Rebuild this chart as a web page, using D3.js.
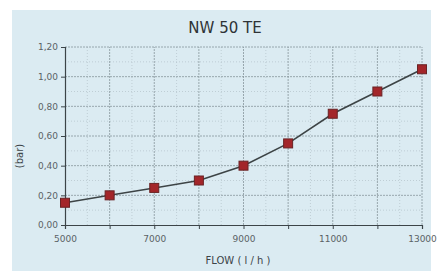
<!DOCTYPE html>
<html>
<head>
<meta charset="utf-8">
<script src="https://cdn.jsdelivr.net/npm/d3@7"></script>
<style>
  body { margin: 0; background: #fff; }
  svg { display: block; }
</style>
</head>
<body>
<div id="chart"></div>
<script>
// values
var flows = [5000, 6000, 7000, 8000, 9000, 10000, 11000, 12000, 13000];
var pressures = [0.15, 0.20, 0.25, 0.30, 0.40, 0.55, 0.75, 0.90, 1.05];
var xTickLabels = [5000, 7000, 9000, 11000, 13000];
var yTickLabels = [0, 0.2, 0.4, 0.6, 0.8, 1.0, 1.2];

var W = 437, H = 271;
var margins = {left: 65, top: 47, right: 15, bottom: 46};

var svg = d3.select("#chart").append("svg:svg")
    .attr("width", W)
    .attr("height", H);

// light blue panel
svg.append("rect")
    .attr("x", 12).attr("y", 10)
    .attr("width", 419).attr("height", 261)
    .attr("fill", "#dbebf2");

var x = d3.scaleLinear().domain([5000, 13000]).range([margins.left, W - margins.right]);
var y = d3.scaleLinear().domain([0, 1.2]).range([H - margins.bottom, margins.top]);

var fmt = function(d) { return d3.format(".2f")(d).replace(".", ","); };

// minor grid
var grid = svg.append("g");
grid.selectAll(".minor-x")
    .data(d3.range(5500, 13000, 1000))
    .enter().append("line")
    .attr("x1", function(d) { return x(d); }).attr("x2", function(d) { return x(d); })
    .attr("y1", y(0)).attr("y2", y(1.2))
    .attr("stroke", "#b3c2c9").attr("stroke-width", 0.7)
    .attr("stroke-dasharray", "1,2");
grid.selectAll(".minor-y")
    .data(d3.range(0.1, 1.2, 0.2))
    .enter().append("line")
    .attr("x1", x(5000)).attr("x2", x(13000))
    .attr("y1", function(d) { return y(d); }).attr("y2", function(d) { return y(d); })
    .attr("stroke", "#b3c2c9").attr("stroke-width", 0.7)
    .attr("stroke-dasharray", "1,2");

// major grid
grid.selectAll(".major-x")
    .data(d3.range(6000, 13001, 1000))
    .enter().append("line")
    .attr("x1", function(d) { return x(d); }).attr("x2", function(d) { return x(d); })
    .attr("y1", y(0)).attr("y2", y(1.2))
    .attr("stroke", "#86959c").attr("stroke-width", 0.8)
    .attr("stroke-dasharray", "2,1");
grid.selectAll(".major-y")
    .data(d3.range(0.2, 1.21, 0.2))
    .enter().append("line")
    .attr("x1", x(5000)).attr("x2", x(13000))
    .attr("y1", function(d) { return y(d); }).attr("y2", function(d) { return y(d); })
    .attr("stroke", "#86959c").attr("stroke-width", 0.8)
    .attr("stroke-dasharray", "2,1");

// axes
var xAxis = d3.axisBottom(x)
    .tickValues(d3.range(5000, 13001, 1000))
    .tickSize(4)
    .tickFormat(function(d) { return xTickLabels.indexOf(d) >= 0 ? d : ""; });
var yAxis = d3.axisLeft(y)
    .tickValues(yTickLabels)
    .tickSize(4)
    .tickFormat(fmt);

var gx = svg.append("g")
    .attr("transform", "translate(0," + y(0) + ")")
    .call(xAxis);
var gy = svg.append("g")
    .attr("transform", "translate(" + x(5000) + ",0)")
    .call(yAxis);

[gx, gy].forEach(function(g) {
    g.select(".domain").attr("stroke", "#3c4448").attr("stroke-width", 1.2);
    g.selectAll(".tick line").attr("stroke", "#3c4448");
    g.selectAll("text")
        .attr("fill", "#5a6266")
        .style("font-family", "'DejaVu Sans', sans-serif")
        .style("font-size", "9px");
});
gx.selectAll("text").attr("dy", "1.1em");

// series line
var line = d3.line()
    .x(function(d, i) { return x(flows[i]); })
    .y(function(d) { return y(d); });

svg.append("path")
    .datum(pressures)
    .attr("fill", "none")
    .attr("stroke", "#3d4446")
    .attr("stroke-width", 1.6)
    .attr("d", line);

// markers
svg.selectAll(".pt")
    .data(pressures)
    .enter().append("rect")
    .attr("class", "pt")
    .attr("x", function(d, i) { return x(flows[i]) - 4.5; })
    .attr("y", function(d) { return y(d) - 4.5; })
    .attr("width", 9).attr("height", 9)
    .attr("fill", "#a3262a")
    .attr("stroke", "#6a2325")
    .attr("stroke-width", 1);

// title and labels
svg.append("text")
    .attr("x", 225).attr("y", 33)
    .attr("text-anchor", "middle")
    .attr("fill", "#2e3336")
    .style("font-family", "'DejaVu Sans', sans-serif")
    .style("font-size", "15px")
    .text("NW 50 TE");

svg.append("text")
    .attr("x", 238).attr("y", 264)
    .attr("text-anchor", "middle")
    .attr("fill", "#3c4448")
    .style("font-family", "'DejaVu Sans', sans-serif")
    .style("font-size", "10px")
    .text("FLOW ( l / h )");

svg.append("text")
    .attr("transform", "translate(23,156) rotate(-90)")
    .attr("text-anchor", "middle")
    .attr("fill", "#3c4448")
    .style("font-family", "'DejaVu Sans', sans-serif")
    .style("font-size", "10px")
    .text("(bar)");
</script>
</body>
</html>
